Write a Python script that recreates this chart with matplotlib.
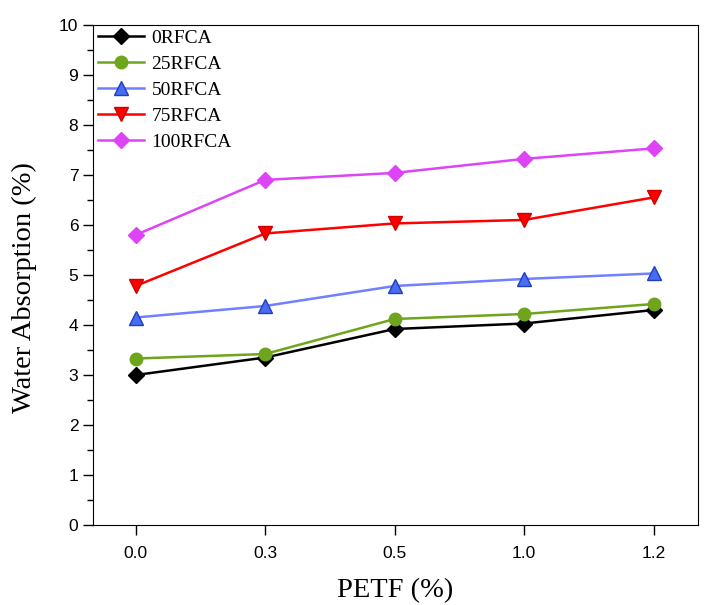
import matplotlib.pyplot as plt
from matplotlib.ticker import MultipleLocator

petf = ['0.0', '0.3', '0.5', '1.0', '1.2']
series_names = ['0RFCA', '25RFCA', '50RFCA', '75RFCA', '100RFCA']
rfca0 = [3.00, 3.35, 3.92, 4.03, 4.30]
rfca25 = [3.33, 3.42, 4.12, 4.22, 4.42]
rfca50 = [4.15, 4.38, 4.78, 4.92, 5.03]
rfca75 = [4.78, 5.83, 6.03, 6.10, 6.55]
rfca100 = [5.80, 6.90, 7.04, 7.32, 7.53]

styles = [
    dict(color='black', marker='D', mfc='black', mec='black', ms=8),
    dict(color='#6ea51c', marker='o', mfc='#6ea51c', mec='#6ea51c', ms=9),
    dict(color='#7080ff', marker='^', mfc='#4a6cf0', mec='#1f3fbf', ms=10),
    dict(color='#ff0000', marker='v', mfc='#ff0000', mec='#d00000', ms=10),
    dict(color='#dd44f5', marker='D', mfc='#dd44f5', mec='#dd44f5', ms=8),
]

fig = plt.figure(figsize=(7.09, 6.05), dpi=100)
ax = fig.add_axes([0.131, 0.132, 0.853, 0.827])

x = list(range(len(petf)))
for name, vals, st in zip(series_names, [rfca0, rfca25, rfca50, rfca75, rfca100], styles):
    ax.plot(x, vals, lw=1.8, label=name, **st)

ax.set_xlim(-0.33, 4.34)
ax.set_ylim(0, 10)
ax.set_xticks(x)
ax.set_xticklabels(petf, fontfamily='Liberation Sans', fontsize=12.5)
ax.yaxis.set_major_locator(MultipleLocator(1))
ax.yaxis.set_minor_locator(MultipleLocator(0.5))
for lab in ax.get_yticklabels():
    lab.set_fontfamily('Liberation Sans')
    lab.set_fontsize(12.5)
ax.tick_params(axis='both', which='major', direction='out', length=7, width=1)
ax.tick_params(axis='y', which='minor', direction='out', length=4, width=1)
ax.tick_params(axis='x', pad=8)

ax.set_xlabel('PETF (%)', fontfamily='Liberation Serif', fontsize=20.5)
ax.set_ylabel('Water Absorption (%)', fontfamily='Liberation Serif', fontsize=20.5)
ax.yaxis.set_label_coords(-0.093, 0.474)
ax.xaxis.set_label_coords(0.5, -0.105)

ax.legend(loc='upper left', frameon=False, prop={'family': 'Liberation Serif', 'size': 14},
          handlelength=2.4, labelspacing=0.43, borderpad=0.1, borderaxespad=0.15,
          handletextpad=0.36)

fig.savefig('out.png', dpi=100)
